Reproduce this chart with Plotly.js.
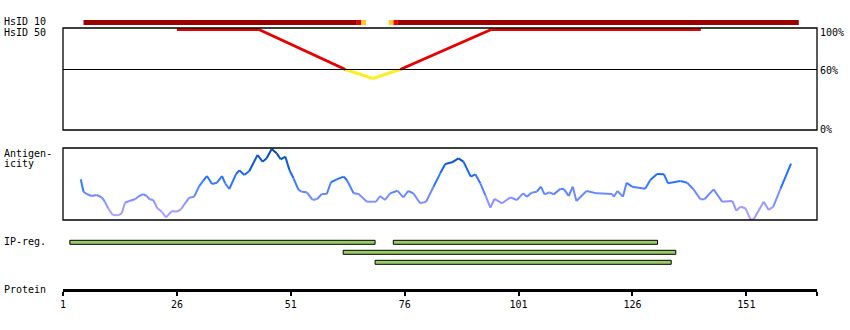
<!DOCTYPE html>
<html><head><meta charset="utf-8">
<script src="https://cdn.plot.ly/plotly-3.0.1.min.js"></script>
<style>html,body{margin:0;padding:0;background:#fff}</style>
</head><body><div id="chart" style="width:850px;height:330px"></div>
<script>
// ---------- data ----------
const tickVals = [1, 26, 51, 76, 101, 126, 151];
const tickText = ['1', '26', '51', '76', '101', '126', '151'];
const axisEnd = 166.5;

// HsID 10 track segments (residue ranges) and identity class
const hs10Start = [6, 66, 67, 73, 74, 75];
const hs10End   = [65, 66, 67, 73, 74, 162];
const hs10Class = ['high', 'mid', 'low', 'low', 'mid', 'high'];

// HsID 50 identity profile (%)
const hs50Res = [26, 44, 63, 69, 75, 95, 141];
const hs50Pct = [100, 100, 60, 51, 60, 100, 100];

// Antigenicity profile
const antigenRes = [4.9,5.5,6.2,7.3,8.4,9.5,10.2,10.9,11.9,13.1,
 13.9,14.6,15.7,16.8,17.5,18.6,19.4,20.0,20.8,21.7,
 22.7,23.6,24.9,26.0,26.9,27.8,28.7,29.8,30.9,31.8,
 32.6,33.7,34.8,35.9,36.6,37.5,39.0,39.7,40.8,41.9,
 43.7,44.8,45.7,46.8,47.9,48.8,49.8,50.7,51.6,52.7,
 53.4,54.5,55.8,56.8,57.8,58.9,59.8,61.1,62.6,63.3,
 64.8,65.9,67.7,69.7,70.6,71.7,72.8,74.4,75.7,76.8,
 77.9,79.4,80.7,82.3,83.8,84.9,86.4,87.8,88.9,90.5,
 91.5,92.6,93.7,94.8,95.7,97.4,99.2,100.6,102.0,102.8,
 103.9,105.0,105.9,106.7,107.8,108.7,110.2,111.0,112.0,112.9,
 113.7,115.9,118.2,121.5,121.9,122.7,123.9,124.7,125.9,128.8,
 129.9,131.4,132.9,133.8,136.5,138.0,139.4,140.9,141.8,143.8,
 145.7,147.9,148.8,149.7,150.8,151.9,152.6,154.8,155.9,156.9,
 158.5,160.8];
const antigenVal = [56.5,39.3,36.1,33.3,34.7,31.5,25.4,16.3,6.9,6.5,
 9.3,24.0,26.8,28.8,32.4,36.1,33.3,28.8,27.8,16.3,
 11.5,3.7,12.5,11.5,14.9,23.2,31.0,32.4,47.2,54.6,
 61.1,50.0,51.8,61.1,50.9,43.1,63.9,69.0,62.5,68.1,
 90.3,81.0,85.7,98.6,92.6,84.3,88.0,69.4,57.9,41.7,
 39.3,38.5,27.8,29.2,36.1,36.1,52.4,56.5,60.2,55.6,
 37.0,36.1,25.4,25.4,33.3,27.8,37.0,40.7,31.5,40.3,
 37.0,23.2,25.4,45.8,64.8,77.8,80.1,85.6,81.0,60.2,
 63.5,50.9,34.7,17.1,29.2,23.2,31.5,27.8,37.0,32.4,
 38.0,39.3,46.3,35.6,38.5,35.6,43.5,42.6,33.3,46.3,
 26.4,40.3,37.0,36.1,32.4,40.3,32.4,51.8,46.3,43.5,
 55.6,63.9,63.5,50.9,54.2,51.8,42.6,28.8,28.8,42.6,
 25.4,26.4,13.0,18.5,16.3,0.9,0.9,25.4,13.9,18.5,
 43.5,78.2];

// IP regions
const ipStart = [3, 74, 63, 70];
const ipEnd   = [69, 131, 135, 134];
const ipRow   = [1, 1, 2, 3];

// ---------- styles ----------
const FONT = 'DejaVu Sans Mono, monospace';
const hs10Colors = {high: '#990000', mid: '#e60000', low: '#ffcc22'};
const colorStops = [[0,[184,168,255]],[25,[140,146,255]],[40,[92,134,255]],[60,[32,112,255]],[78,[10,92,220]],[100,[0,70,140]]];
function colorFor(v){
  for (let i=1;i<colorStops.length;i++){
    if (v <= colorStops[i][0]){
      const a=colorStops[i-1], b=colorStops[i];
      const t=(v-a[0])/(b[0]-a[0]);
      const c=a[1].map((x,k)=>Math.round(x+(b[1][k]-x)*t));
      return 'rgb('+c.join(',')+')';
    }
  }
  return 'rgb('+colorStops[colorStops.length-1][1].join(',')+')';
}

const traces = [];

// HsID 10 bars
['high','mid','low'].forEach(cls=>{
  const idx = hs10Class.map((c,i)=>c===cls?i:-1).filter(i=>i>=0);
  traces.push({type:'bar', orientation:'h', xaxis:'x', yaxis:'y3',
    base: idx.map(i=>hs10Start[i]-0.5),
    x: idx.map(i=>hs10End[i]-hs10Start[i]+1),
    y: idx.map(()=>0.5), width: 0.5,
    marker:{color:hs10Colors[cls], line:{width:0}}, hoverinfo:'skip'});
});

// HsID 50 line, red >= 60 %, yellow below
const redX=[],redY=[],yelX=[],yelY=[];
for (let i=0;i<hs50Res.length-1;i++){
  const ok = hs50Pct[i]>=60 && hs50Pct[i+1]>=60;
  const X = ok?redX:yelX, Y = ok?redY:yelY;
  X.push(hs50Res[i],hs50Res[i+1],null); Y.push(hs50Pct[i],hs50Pct[i+1],null);
}
traces.push({type:'scatter', mode:'lines', x:redX, y:redY, xaxis:'x', yaxis:'y',
  line:{color:'#e60000', width:3}, hoverinfo:'skip', connectgaps:false});
traces.push({type:'scatter', mode:'lines', x:yelX, y:yelY, xaxis:'x', yaxis:'y',
  line:{color:'#ffee22', width:3}, hoverinfo:'skip', connectgaps:false});

// Antigenicity line, segment-coloured
const groups = {};
for (let i=0;i<antigenRes.length-1;i++){
  const mid = (antigenVal[i]+antigenVal[i+1])/2;
  const q = Math.round(mid/5)*5;
  if (!groups[q]) groups[q]={x:[],y:[]};
  groups[q].x.push(antigenRes[i],antigenRes[i+1],null);
  groups[q].y.push(antigenVal[i],antigenVal[i+1],null);
}
Object.keys(groups).forEach(q=>{
  traces.push({type:'scatter', mode:'lines', x:groups[q].x, y:groups[q].y,
    xaxis:'x', yaxis:'y2', line:{color:colorFor(+q), width:2},
    hoverinfo:'skip', connectgaps:false});
});

// IP regions
traces.push({type:'bar', orientation:'h', xaxis:'x', yaxis:'y4',
  base: ipStart.map(s=>s-0.5), x: ipStart.map((s,i)=>ipEnd[i]-s+1),
  y: ipRow, width: 0.4,
  marker:{color:'#99cc66', line:{color:'#000', width:1}}, hoverinfo:'skip'});

const H = 330;
const py = p => 1 - p/H;
const lab = (text, x, y, anchor) => ({text, xref:'paper', yref:'paper',
  x, y, xanchor:anchor||'left', yanchor:'middle', showarrow:false,
  font:{family:FONT, size:10, color:'#000'}});
const px = p => (p-63)/754;

const layout = {
  width:850, height:330, margin:{l:63, r:33, t:0, b:0},
  paper_bgcolor:'#fff', plot_bgcolor:'rgba(0,0,0,0)',
  showlegend:false, hovermode:false, barmode:'overlay',
  xaxis:{range:[1, axisEnd], anchor:'free', position: py(290),
    showline:true, linecolor:'#000', linewidth:3, showgrid:false, zeroline:false,
    tickmode:'array', tickvals:[...tickVals, axisEnd], ticktext:[...tickText, ''],
    ticks:'outside', ticklen:4, tickwidth:2, tickcolor:'#000',
    tickfont:{family:FONT, size:10, color:'#000'}},
  yaxis:{domain:[py(130), py(28)], range:[-0.5, 101.5], visible:false},
  yaxis2:{domain:[py(220), py(148)], range:[0, 100], visible:false},
  yaxis3:{domain:[py(27.5), py(17.5)], range:[0, 1], visible:false},
  yaxis4:{domain:[py(267.3), py(237.3)], range:[3.5, 0.5], visible:false},
  shapes:[
    {type:'rect', xref:'x domain', yref:'y domain', x0:0, x1:1, y0:0, y1:1, line:{color:'#000', width:1.3}},
    {type:'line', xref:'x domain', yref:'y', x0:0, x1:1, y0:60, y1:60, line:{color:'#000', width:1}},
    {type:'rect', xref:'x domain', yref:'y2 domain', x0:0, x1:1, y0:0, y1:1, line:{color:'#000', width:1.3}}
  ],
  annotations:[
    lab('HsID 10', px(2), py(22)),
    lab('HsID 50', px(2), py(33)),
    lab('Antigen-', px(2), py(153)),
    lab('icity', px(2), py(163)),
    lab('IP-reg.', px(2), py(242)),
    lab('Protein', px(2), py(289)),
    lab('100%', px(818), py(33)),
    lab('60%', px(818), py(71)),
    lab('0%', px(818), py(129.5))
  ]
};

Plotly.newPlot('chart', traces, layout, {displayModeBar:false, staticPlot:true});
</script></body></html>
